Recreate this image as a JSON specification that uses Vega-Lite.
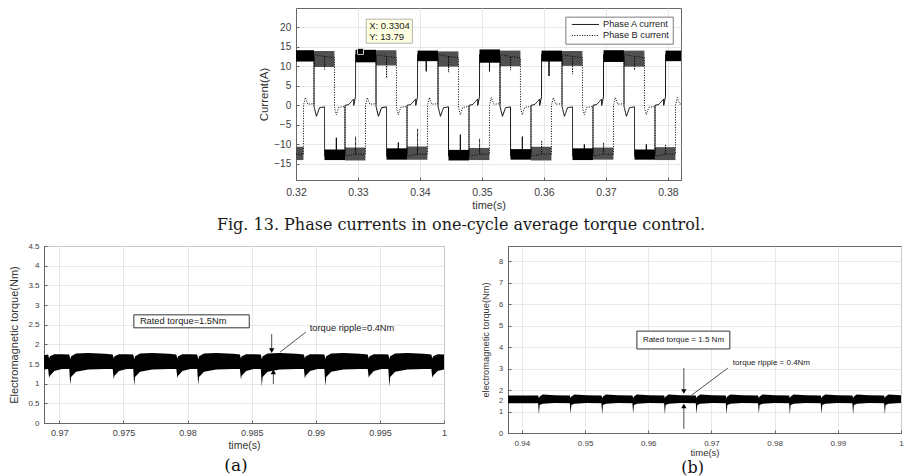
{
  "$schema": "https://vega.github.io/schema/vega-lite/v6.json",
  "background": "white",
  "padding": {"left": 8, "top": 7, "right": 0, "bottom": 0},
  "config": {
    "view": {"stroke": "#666666", "strokeWidth": 1},
    "axis": {"grid": true, "gridColor": "#e2e2e2", "gridWidth": 0.8, "domainColor": "#666666", "domainWidth": 1, "tickColor": "#666666", "tickSize": -3, "labelColor": "#404040", "titleColor": "#333333", "labelFont": "Liberation Sans", "titleFont": "Liberation Sans", "titleFontWeight": "normal", "labelFlush": false, "labelOverlap": false, "labelBound": false}
  },
  "spacing": 8,
  "resolve": {"scale": {"strokeDash": "independent", "fill": "independent", "shape": "independent"}},
  "vconcat": [
    {
      "spacing": 0,
      "resolve": {"scale": {"strokeDash": "independent", "fill": "independent"}},
      "hconcat": [
        {"width": 172, "height": 20, "data": {"values": [{"a": 1}]}, "mark": {"type": "point", "opacity": 0}, "view": {"stroke": null}},
        {
          "width": 385, "height": 172,
          "title": {"text": "Fig. 13. Phase currents in one-cycle average torque control.", "orient": "bottom", "anchor": "middle", "frame": "group", "font": "DejaVu Serif", "fontSize": 16, "fontWeight": "normal", "color": "#1a1a1a", "offset": 6, "dx": -27.5},
          "encoding": {
            "x": {"field": "t", "type": "quantitative", "scale": {"domain": [0.32, 0.3821], "nice": false, "zero": false}, "axis": {"title": "time(s)", "values": [0.32, 0.33, 0.34, 0.35, 0.36, 0.37, 0.38], "format": ".2f", "labelFontSize": 10.5, "titleFontSize": 11, "labelPadding": 10, "titlePadding": 2}},
            "y": {"field": "v", "type": "quantitative", "scale": {"domain": [-19.1, 24.9], "nice": false, "zero": false}, "axis": {"title": "Current(A)", "values": [-15, -10, -5, 0, 5, 10, 15, 20], "format": "d", "labelFontSize": 10, "titleFontSize": 11.5, "labelPadding": 8.3, "titlePadding": 4.4}}
          },
          "layer": [
            {
              "data": {"values": [
                {"ph": "A", "t": 0.32, "t2": 0.3229, "v": 11.2, "v2": 14.1},
                {"ph": "A", "t": 0.3296, "t2": 0.3329, "v": 11.0, "v2": 14.2},
                {"ph": "A", "t": 0.3396, "t2": 0.3429, "v": 11.3, "v2": 14.0},
                {"ph": "A", "t": 0.3496, "t2": 0.3529, "v": 10.9, "v2": 14.3},
                {"ph": "A", "t": 0.3596, "t2": 0.3629, "v": 11.2, "v2": 14.0},
                {"ph": "A", "t": 0.3696, "t2": 0.3729, "v": 11.1, "v2": 14.1},
                {"ph": "A", "t": 0.3796, "t2": 0.3821, "v": 11.3, "v2": 14.0},
                {"ph": "A", "t": 0.3246, "t2": 0.3279, "v": -14.0, "v2": -11.3},
                {"ph": "A", "t": 0.3346, "t2": 0.3379, "v": -13.9, "v2": -11.0},
                {"ph": "A", "t": 0.3446, "t2": 0.3479, "v": -14.1, "v2": -11.4},
                {"ph": "A", "t": 0.3546, "t2": 0.3579, "v": -13.9, "v2": -11.2},
                {"ph": "A", "t": 0.3646, "t2": 0.3679, "v": -14.0, "v2": -11.0},
                {"ph": "A", "t": 0.3746, "t2": 0.3779, "v": -13.9, "v2": -11.3},
                {"ph": "B", "t": 0.3229, "t2": 0.3262, "v": 9.8, "v2": 13.9},
                {"ph": "B", "t": 0.3329, "t2": 0.3362, "v": 10.2, "v2": 14.1},
                {"ph": "B", "t": 0.3429, "t2": 0.3462, "v": 9.9, "v2": 13.8},
                {"ph": "B", "t": 0.3529, "t2": 0.3562, "v": 10.0, "v2": 14.0},
                {"ph": "B", "t": 0.3629, "t2": 0.3662, "v": 10.1, "v2": 13.9},
                {"ph": "B", "t": 0.3729, "t2": 0.3762, "v": 9.9, "v2": 14.0},
                {"ph": "B", "t": 0.32, "t2": 0.3212, "v": -14.0, "v2": -10.6},
                {"ph": "B", "t": 0.3279, "t2": 0.3312, "v": -14.1, "v2": -10.8},
                {"ph": "B", "t": 0.3379, "t2": 0.3412, "v": -13.9, "v2": -10.5},
                {"ph": "B", "t": 0.3479, "t2": 0.3512, "v": -14.0, "v2": -10.9},
                {"ph": "B", "t": 0.3579, "t2": 0.3612, "v": -14.1, "v2": -10.6},
                {"ph": "B", "t": 0.3679, "t2": 0.3712, "v": -13.9, "v2": -10.8},
                {"ph": "B", "t": 0.3779, "t2": 0.3812, "v": -14.0, "v2": -10.7}
              ]},
              "mark": {"type": "rect", "clip": true},
              "encoding": {
                "x2": {"field": "t2"}, "y2": {"field": "v2"},
                "fill": {"field": "ph", "type": "nominal", "scale": {"domain": ["A", "B"], "range": ["#000000", "#505050"]}, "legend": null}
              }
            },
            {
              "data": {"values": [
                {"p":"A","t":0.32,"v":12.8},{"p":"A","t":0.3229,"v":12.5},{"p":"A","t":0.32291,"v":-0.3},{"p":"A","t":0.3233,"v":-2.8},{"p":"A","t":0.3238,"v":-0.6},{"p":"A","t":0.3246,"v":-0.4},{"p":"A","t":0.32461,"v":-13},{"p":"A","t":0.3265,"v":-12.6},{"p":"A","t":0.32651,"v":-8.3},{"p":"A","t":0.32652,"v":-12.6},{"p":"A","t":0.3279,"v":-12.5},{"p":"A","t":0.32791,"v":0},{"p":"A","t":0.3285,"v":0.2},{"p":"A","t":0.3293,"v":1.6},{"p":"A","t":0.32931,"v":0},
                {"p":"A","t":0.3296,"v":2.2},{"p":"A","t":0.32961,"v":13},{"p":"A","t":0.3329,"v":12.5},{"p":"A","t":0.33291,"v":-0.3},{"p":"A","t":0.3333,"v":-2.8},{"p":"A","t":0.3338,"v":-0.6},{"p":"A","t":0.3346,"v":-0.4},{"p":"A","t":0.33461,"v":-13},{"p":"A","t":0.3365,"v":-12.6},{"p":"A","t":0.33651,"v":-9.5},{"p":"A","t":0.33652,"v":-12.6},{"p":"A","t":0.3379,"v":-12.5},{"p":"A","t":0.33791,"v":0},{"p":"A","t":0.3385,"v":0.2},{"p":"A","t":0.3393,"v":1.6},{"p":"A","t":0.33931,"v":0},
                {"p":"A","t":0.3396,"v":2.2},{"p":"A","t":0.33961,"v":13},{"p":"A","t":0.341,"v":12.6},{"p":"A","t":0.34101,"v":8.7},{"p":"A","t":0.34102,"v":12.6},{"p":"A","t":0.3429,"v":12.5},{"p":"A","t":0.34291,"v":-0.3},{"p":"A","t":0.3433,"v":-2.8},{"p":"A","t":0.3438,"v":-0.6},{"p":"A","t":0.3446,"v":-0.4},{"p":"A","t":0.34461,"v":-13},{"p":"A","t":0.3465,"v":-12.6},{"p":"A","t":0.34651,"v":-7.5},{"p":"A","t":0.34652,"v":-12.6},{"p":"A","t":0.3479,"v":-12.5},{"p":"A","t":0.34791,"v":0},{"p":"A","t":0.3485,"v":0.2},{"p":"A","t":0.3493,"v":1.6},{"p":"A","t":0.34931,"v":0},
                {"p":"A","t":0.3496,"v":2.2},{"p":"A","t":0.34961,"v":13},{"p":"A","t":0.3512,"v":12.6},{"p":"A","t":0.35121,"v":8.7},{"p":"A","t":0.35122,"v":12.6},{"p":"A","t":0.3529,"v":12.5},{"p":"A","t":0.35291,"v":-0.3},{"p":"A","t":0.3533,"v":-2.8},{"p":"A","t":0.3538,"v":-0.6},{"p":"A","t":0.3546,"v":-0.4},{"p":"A","t":0.35461,"v":-13},{"p":"A","t":0.3565,"v":-12.6},{"p":"A","t":0.35651,"v":-8},{"p":"A","t":0.35652,"v":-12.6},{"p":"A","t":0.3579,"v":-12.5},{"p":"A","t":0.35791,"v":0},{"p":"A","t":0.3585,"v":0.2},{"p":"A","t":0.3593,"v":1.6},{"p":"A","t":0.35931,"v":0},
                {"p":"A","t":0.3596,"v":2.2},{"p":"A","t":0.35961,"v":13},{"p":"A","t":0.3608,"v":12.6},{"p":"A","t":0.36081,"v":7.5},{"p":"A","t":0.36082,"v":12.6},{"p":"A","t":0.3629,"v":12.5},{"p":"A","t":0.36291,"v":-0.3},{"p":"A","t":0.3633,"v":-2.8},{"p":"A","t":0.3638,"v":-0.6},{"p":"A","t":0.3646,"v":-0.4},{"p":"A","t":0.36461,"v":-13},{"p":"A","t":0.3665,"v":-12.6},{"p":"A","t":0.36651,"v":-10},{"p":"A","t":0.36652,"v":-12.6},{"p":"A","t":0.3679,"v":-12.5},{"p":"A","t":0.36791,"v":0},{"p":"A","t":0.3685,"v":0.2},{"p":"A","t":0.3693,"v":1.6},{"p":"A","t":0.36931,"v":0},
                {"p":"A","t":0.3696,"v":2.2},{"p":"A","t":0.36961,"v":13},{"p":"A","t":0.3729,"v":12.5},{"p":"A","t":0.37291,"v":-0.3},{"p":"A","t":0.3733,"v":-2.8},{"p":"A","t":0.3738,"v":-0.6},{"p":"A","t":0.3746,"v":-0.4},{"p":"A","t":0.37461,"v":-13},{"p":"A","t":0.3765,"v":-12.6},{"p":"A","t":0.37651,"v":-10},{"p":"A","t":0.37652,"v":-12.6},{"p":"A","t":0.3779,"v":-12.5},{"p":"A","t":0.37791,"v":0},{"p":"A","t":0.3785,"v":0.2},{"p":"A","t":0.3793,"v":1.6},{"p":"A","t":0.37931,"v":0},
                {"p":"A","t":0.3796,"v":2.2},{"p":"A","t":0.37961,"v":13},{"p":"A","t":0.3821,"v":12.8},
                {"p":"B","t":0.32,"v":-12.5},{"p":"B","t":0.3212,"v":-12.5},{"p":"B","t":0.32121,"v":0},{"p":"B","t":0.3215,"v":2},{"p":"B","t":0.3219,"v":0.3},
                {"p":"B","t":0.3229,"v":0.4},{"p":"B","t":0.32291,"v":13},{"p":"B","t":0.3246,"v":12.5},{"p":"B","t":0.32461,"v":9.2},{"p":"B","t":0.32462,"v":12.5},{"p":"B","t":0.3262,"v":12.2},{"p":"B","t":0.32621,"v":-0.5},{"p":"B","t":0.3265,"v":-2.4},{"p":"B","t":0.3269,"v":-0.5},{"p":"B","t":0.3279,"v":-0.3},{"p":"B","t":0.32791,"v":-13},{"p":"B","t":0.3296,"v":-12.5},{"p":"B","t":0.32961,"v":-8},{"p":"B","t":0.32962,"v":-12.5},{"p":"B","t":0.3312,"v":-12.5},{"p":"B","t":0.33121,"v":0},{"p":"B","t":0.3315,"v":2},{"p":"B","t":0.3319,"v":0.3},
                {"p":"B","t":0.3329,"v":0.4},{"p":"B","t":0.33291,"v":13},{"p":"B","t":0.3346,"v":12.5},{"p":"B","t":0.33461,"v":7},{"p":"B","t":0.33462,"v":12.5},{"p":"B","t":0.3362,"v":12.2},{"p":"B","t":0.33621,"v":-0.5},{"p":"B","t":0.3365,"v":-2.4},{"p":"B","t":0.3369,"v":-0.5},{"p":"B","t":0.3379,"v":-0.3},{"p":"B","t":0.33791,"v":-13},{"p":"B","t":0.3396,"v":-12.5},{"p":"B","t":0.33961,"v":-6},{"p":"B","t":0.33962,"v":-12.5},{"p":"B","t":0.3412,"v":-12.5},{"p":"B","t":0.34121,"v":0},{"p":"B","t":0.3415,"v":2},{"p":"B","t":0.3419,"v":0.3},
                {"p":"B","t":0.3429,"v":0.4},{"p":"B","t":0.34291,"v":13},{"p":"B","t":0.3446,"v":12.5},{"p":"B","t":0.34461,"v":8.5},{"p":"B","t":0.34462,"v":12.5},{"p":"B","t":0.3462,"v":12.2},{"p":"B","t":0.34621,"v":-0.5},{"p":"B","t":0.3465,"v":-2.4},{"p":"B","t":0.3469,"v":-0.5},{"p":"B","t":0.3479,"v":-0.3},{"p":"B","t":0.34791,"v":-13},{"p":"B","t":0.3496,"v":-12.5},{"p":"B","t":0.34961,"v":-8.5},{"p":"B","t":0.34962,"v":-12.5},{"p":"B","t":0.3512,"v":-12.5},{"p":"B","t":0.35121,"v":0},{"p":"B","t":0.3515,"v":2},{"p":"B","t":0.3519,"v":0.3},
                {"p":"B","t":0.3529,"v":0.4},{"p":"B","t":0.35291,"v":13},{"p":"B","t":0.3546,"v":12.5},{"p":"B","t":0.35461,"v":9},{"p":"B","t":0.35462,"v":12.5},{"p":"B","t":0.3562,"v":12.2},{"p":"B","t":0.35621,"v":-0.5},{"p":"B","t":0.3565,"v":-2.4},{"p":"B","t":0.3569,"v":-0.5},{"p":"B","t":0.3579,"v":-0.3},{"p":"B","t":0.35791,"v":-13},{"p":"B","t":0.3596,"v":-12.5},{"p":"B","t":0.35961,"v":-9},{"p":"B","t":0.35962,"v":-12.5},{"p":"B","t":0.3612,"v":-12.5},{"p":"B","t":0.36121,"v":0},{"p":"B","t":0.3615,"v":2},{"p":"B","t":0.3619,"v":0.3},
                {"p":"B","t":0.3629,"v":0.4},{"p":"B","t":0.36291,"v":13},{"p":"B","t":0.3646,"v":12.5},{"p":"B","t":0.36461,"v":8},{"p":"B","t":0.36462,"v":12.5},{"p":"B","t":0.3662,"v":12.2},{"p":"B","t":0.36621,"v":-0.5},{"p":"B","t":0.3665,"v":-2.4},{"p":"B","t":0.3669,"v":-0.5},{"p":"B","t":0.3679,"v":-0.3},{"p":"B","t":0.36791,"v":-13},{"p":"B","t":0.3696,"v":-12.5},{"p":"B","t":0.36961,"v":-9.5},{"p":"B","t":0.36962,"v":-12.5},{"p":"B","t":0.3712,"v":-12.5},{"p":"B","t":0.37121,"v":0},{"p":"B","t":0.3715,"v":2},{"p":"B","t":0.3719,"v":0.3},
                {"p":"B","t":0.3729,"v":0.4},{"p":"B","t":0.37291,"v":13},{"p":"B","t":0.3746,"v":12.5},{"p":"B","t":0.37461,"v":9},{"p":"B","t":0.37462,"v":12.5},{"p":"B","t":0.3762,"v":12.2},{"p":"B","t":0.37621,"v":-0.5},{"p":"B","t":0.3765,"v":-2.4},{"p":"B","t":0.3769,"v":-0.5},{"p":"B","t":0.3779,"v":-0.3},{"p":"B","t":0.37791,"v":-13},{"p":"B","t":0.3796,"v":-12.5},{"p":"B","t":0.37961,"v":-10},{"p":"B","t":0.37962,"v":-12.5},{"p":"B","t":0.3812,"v":-12.5},{"p":"B","t":0.38121,"v":0},{"p":"B","t":0.3815,"v":2},{"p":"B","t":0.3819,"v":0.3},
                {"p":"B","t":0.3821,"v":0.4}
              ]},
              "mark": {"type": "line", "color": "black", "strokeWidth": 1, "clip": true},
              "encoding": {
                "strokeDash": {"field": "p", "type": "nominal", "scale": {"domain": ["A", "B"], "range": [[1, 0], [1, 1.5]]}, "legend": null}
              }
            },
            {
              "data": {"values": [{"t": 0.36353, "t2": 0.38085, "v": 15.64, "v2": 22.56}]},
              "mark": {"type": "rect", "fill": "white", "stroke": "#5a5a5a", "strokeWidth": 0.8},
              "encoding": {"x2": {"field": "t2"}, "y2": {"field": "v2"}}
            },
            {
              "data": {"values": [{"p": "A", "t": 0.3645, "t2": 0.36887, "v": 20.69}, {"p": "B", "t": 0.3645, "t2": 0.36887, "v": 17.87}]},
              "mark": {"type": "rule", "color": "black", "strokeWidth": 1},
              "encoding": {"x2": {"field": "t2"}, "strokeDash": {"field": "p", "type": "nominal", "legend": null}}
            },
            {
              "data": {"values": [{"t": 0.36952, "v": 20.69, "label": "Phase A current"}, {"t": 0.36952, "v": 17.87, "label": "Phase B current"}]},
              "mark": {"type": "text", "align": "left", "baseline": "middle", "font": "Liberation Sans", "fontSize": 9.2, "color": "#222222"},
              "encoding": {"text": {"field": "label"}}
            },
            {
              "data": {"values": [{"t": 0.33133, "t2": 0.33877, "v": 15.9, "v2": 22.05}]},
              "mark": {"type": "rect", "fill": "#ffffe1", "stroke": "#a0a0a0", "strokeWidth": 0.8},
              "encoding": {"x2": {"field": "t2"}, "y2": {"field": "v2"}}
            },
            {
              "data": {"values": [{"t": 0.33181, "v": 20.4, "label": "X: 0.3304"}, {"t": 0.33181, "v": 17.4, "label": "Y: 13.79"}]},
              "mark": {"type": "text", "align": "left", "baseline": "middle", "font": "Liberation Sans", "fontSize": 9.5, "color": "#222222"},
              "encoding": {"text": {"field": "label"}}
            },
            {
              "data": {"values": [{"t": 0.3304, "v": 13.79}]},
              "mark": {"type": "point", "shape": "square", "filled": true, "fill": "black", "stroke": "white", "strokeWidth": 0.8, "size": 36, "opacity": 1}
            }
          ]
        }
      ]
    },
    {
      "spacing": 33,
      "resolve": {"scale": {"shape": "independent"}},
      "hconcat": [
        {
          "width": 400, "height": 177,
          "title": {"text": "(a)", "orient": "bottom", "anchor": "middle", "frame": "group", "font": "DejaVu Serif", "fontSize": 17, "fontWeight": "normal", "color": "#111111", "offset": 7, "dx": -8},
          "encoding": {
            "x": {"field": "t", "type": "quantitative", "scale": {"domain": [0.9688, 1], "nice": false, "zero": false}, "axis": {"title": "time(s)", "values": [0.97, 0.975, 0.98, 0.985, 0.99, 0.995, 1], "format": "~g", "labelFontSize": 9, "titleFontSize": 10.5, "labelPadding": 8, "titlePadding": 3}},
            "y": {"field": "v", "type": "quantitative", "scale": {"domain": [0, 4.5], "nice": false, "zero": false}, "axis": {"title": "Electromagnetic torque(Nm)", "values": [0, 0.5, 1, 1.5, 2, 2.5, 3, 3.5, 4, 4.5], "format": "~g", "labelFontSize": 8, "titleFontSize": 11, "labelPadding": 8, "titlePadding": 8}}
          },
          "layer": [
            {
              "data": {"values": [
                {"t":0.9688,"v":1.36,"v2":1.72},
                {"t":0.96912,"v":1.37,"v2":1.74},{"t":0.9692,"v":1.15,"v2":1.64},{"t":0.96926,"v":1.2,"v2":1.7},{"t":0.9696,"v":1.32,"v2":1.75},{"t":0.9702,"v":1.37,"v2":1.75},
                {"t":0.97077,"v":1.37,"v2":1.74},{"t":0.97085,"v":0.97,"v2":1.62},{"t":0.97091,"v":1.17,"v2":1.7},{"t":0.9713,"v":1.3,"v2":1.77},{"t":0.97225,"v":1.36,"v2":1.78},{"t":0.97355,"v":1.37,"v2":1.76},
                {"t":0.97416,"v":1.37,"v2":1.74},{"t":0.97424,"v":1.11,"v2":1.64},{"t":0.9743,"v":1.2,"v2":1.7},{"t":0.97464,"v":1.32,"v2":1.75},{"t":0.97524,"v":1.37,"v2":1.75},
                {"t":0.97576,"v":1.37,"v2":1.74},{"t":0.97584,"v":0.94,"v2":1.62},{"t":0.9759,"v":1.17,"v2":1.7},{"t":0.97629,"v":1.3,"v2":1.77},{"t":0.97724,"v":1.36,"v2":1.78},{"t":0.97854,"v":1.37,"v2":1.76},
                {"t":0.97912,"v":1.37,"v2":1.74},{"t":0.9792,"v":1.15,"v2":1.64},{"t":0.97926,"v":1.2,"v2":1.7},{"t":0.9796,"v":1.32,"v2":1.75},{"t":0.9802,"v":1.37,"v2":1.75},
                {"t":0.98075,"v":1.37,"v2":1.74},{"t":0.98083,"v":0.97,"v2":1.62},{"t":0.98089,"v":1.17,"v2":1.7},{"t":0.98128,"v":1.3,"v2":1.77},{"t":0.98223,"v":1.36,"v2":1.78},{"t":0.98353,"v":1.37,"v2":1.76},
                {"t":0.98408,"v":1.37,"v2":1.74},{"t":0.98416,"v":1.11,"v2":1.64},{"t":0.98422,"v":1.2,"v2":1.7},{"t":0.98456,"v":1.32,"v2":1.75},{"t":0.98516,"v":1.37,"v2":1.75},
                {"t":0.98571,"v":1.37,"v2":1.74},{"t":0.98579,"v":0.92,"v2":1.62},{"t":0.98585,"v":1.17,"v2":1.7},{"t":0.98624,"v":1.3,"v2":1.77},{"t":0.98719,"v":1.36,"v2":1.78},{"t":0.98849,"v":1.37,"v2":1.76},
                {"t":0.98907,"v":1.37,"v2":1.74},{"t":0.98915,"v":1.13,"v2":1.64},{"t":0.98921,"v":1.2,"v2":1.7},{"t":0.98955,"v":1.32,"v2":1.75},{"t":0.99015,"v":1.37,"v2":1.75},
                {"t":0.99067,"v":1.37,"v2":1.74},{"t":0.99075,"v":0.94,"v2":1.62},{"t":0.99081,"v":1.17,"v2":1.7},{"t":0.9912,"v":1.3,"v2":1.77},{"t":0.99215,"v":1.36,"v2":1.78},{"t":0.99345,"v":1.37,"v2":1.76},
                {"t":0.99405,"v":1.37,"v2":1.74},{"t":0.99413,"v":1.15,"v2":1.64},{"t":0.99419,"v":1.2,"v2":1.7},{"t":0.99453,"v":1.32,"v2":1.75},{"t":0.99513,"v":1.37,"v2":1.75},
                {"t":0.99566,"v":1.37,"v2":1.74},{"t":0.99574,"v":0.92,"v2":1.62},{"t":0.9958,"v":1.17,"v2":1.7},{"t":0.99619,"v":1.3,"v2":1.77},{"t":0.99714,"v":1.36,"v2":1.78},{"t":0.99844,"v":1.37,"v2":1.76},
                {"t":0.99901,"v":1.37,"v2":1.74},{"t":0.99909,"v":1.15,"v2":1.64},{"t":0.99915,"v":1.2,"v2":1.7},{"t":0.9995,"v":1.32,"v2":1.75},{"t":1.0,"v":1.36,"v2":1.74}
              ]},
              "mark": {"type": "area", "color": "black", "clip": true},
              "encoding": {"y2": {"field": "v2"}}
            },
            {
              "data": {"values": [{"t": 0.97581, "t2": 0.98481, "v": 2.42, "v2": 2.75}]},
              "mark": {"type": "rect", "fill": "white", "stroke": "#333333", "strokeWidth": 1},
              "encoding": {"x2": {"field": "t2"}, "y2": {"field": "v2"}}
            },
            {
              "data": {"values": [
                {"t": 0.98922, "t2": 0.98721, "v": 2.31, "v2": 1.8},
                {"t": 0.98656, "t2": 0.98656, "v": 2.26, "v2": 1.84},
                {"t": 0.98669, "t2": 0.98669, "v": 0.99, "v2": 1.3}
              ]},
              "mark": {"type": "rule", "color": "#222222", "strokeWidth": 0.8},
              "encoding": {"x2": {"field": "t2"}, "y2": {"field": "v2"}}
            },
            {
              "data": {"values": [{"t": 0.98656, "v": 1.84, "s": "down"}, {"t": 0.98669, "v": 1.3, "s": "up"}]},
              "mark": {"type": "point", "filled": true, "color": "black", "size": 28, "opacity": 1},
              "encoding": {"shape": {"field": "s", "type": "nominal", "scale": {"domain": ["down", "up"], "range": ["triangle-down", "triangle-up"]}, "legend": null}}
            },
            {
              "data": {"values": [{"t": 0.97628, "v": 2.585, "label": "Rated torque=1.5Nm"}, {"t": 0.98953, "v": 2.415, "label": "torque ripple=0.4Nm"}]},
              "mark": {"type": "text", "align": "left", "baseline": "middle", "font": "Liberation Sans", "fontSize": 9.3, "color": "#222222"},
              "encoding": {"text": {"field": "label"}}
            }
          ]
        },
        {
          "width": 393, "height": 187,
          "title": {"text": "(b)", "orient": "bottom", "anchor": "middle", "frame": "group", "font": "DejaVu Serif", "fontSize": 16, "fontWeight": "normal", "color": "#111111", "offset": 3, "dx": -12},
          "encoding": {
            "x": {"field": "t", "type": "quantitative", "scale": {"domain": [0.9378, 1], "nice": false, "zero": false}, "axis": {"title": "time(s)", "values": [0.94, 0.95, 0.96, 0.97, 0.98, 0.99, 1], "format": "~g", "labelFontSize": 8, "titleFontSize": 9.5, "labelPadding": 9, "titlePadding": 0}},
            "y": {"field": "v", "type": "quantitative", "scale": {"domain": [0, 8.7], "nice": false, "zero": false}, "axis": {"title": "electromagnetic torque(Nm)", "values": [0, 1, 1.5, 2, 3, 4, 5, 6, 7, 8], "format": "~g", "labelFontSize": 7.5, "titleFontSize": 9.3, "labelPadding": 8.3, "titlePadding": 8}}
          },
          "layer": [
            {
              "data": {"values": [
                {"t":0.9378,"v":1.38,"v2":1.74},
                {"t":0.94257,"v":1.38,"v2":1.75},{"t":0.94269,"v":0.86,"v2":1.62},{"t":0.94281,"v":1.3,"v2":1.7},{"t":0.94329,"v":1.36,"v2":1.79},{"t":0.94519,"v":1.39,"v2":1.76},
                {"t":0.94759,"v":1.38,"v2":1.75},{"t":0.94771,"v":0.88,"v2":1.62},{"t":0.94783,"v":1.3,"v2":1.7},{"t":0.94831,"v":1.36,"v2":1.79},{"t":0.95021,"v":1.39,"v2":1.76},
                {"t":0.95259,"v":1.38,"v2":1.75},{"t":0.95271,"v":0.86,"v2":1.62},{"t":0.95283,"v":1.3,"v2":1.7},{"t":0.95331,"v":1.36,"v2":1.79},{"t":0.95521,"v":1.39,"v2":1.76},
                {"t":0.95749,"v":1.38,"v2":1.75},{"t":0.95761,"v":0.9,"v2":1.62},{"t":0.95773,"v":1.3,"v2":1.7},{"t":0.95821,"v":1.36,"v2":1.79},{"t":0.96011,"v":1.39,"v2":1.76},
                {"t":0.96251,"v":1.38,"v2":1.75},{"t":0.96263,"v":0.86,"v2":1.62},{"t":0.96275,"v":1.3,"v2":1.7},{"t":0.96323,"v":1.36,"v2":1.79},{"t":0.96513,"v":1.39,"v2":1.76},
                {"t":0.96752,"v":1.38,"v2":1.75},{"t":0.96764,"v":0.88,"v2":1.62},{"t":0.96776,"v":1.3,"v2":1.7},{"t":0.96824,"v":1.36,"v2":1.79},{"t":0.97014,"v":1.39,"v2":1.76},
                {"t":0.97227,"v":1.38,"v2":1.75},{"t":0.97239,"v":0.86,"v2":1.62},{"t":0.97251,"v":1.3,"v2":1.7},{"t":0.97299,"v":1.36,"v2":1.79},{"t":0.97489,"v":1.39,"v2":1.76},
                {"t":0.97738,"v":1.38,"v2":1.75},{"t":0.9775,"v":0.9,"v2":1.62},{"t":0.97762,"v":1.3,"v2":1.7},{"t":0.9781,"v":1.36,"v2":1.79},{"t":0.98,"v":1.39,"v2":1.76},
                {"t":0.98229,"v":1.38,"v2":1.75},{"t":0.98241,"v":0.86,"v2":1.62},{"t":0.98253,"v":1.3,"v2":1.7},{"t":0.98301,"v":1.36,"v2":1.79},{"t":0.98491,"v":1.39,"v2":1.76},
                {"t":0.9873,"v":1.38,"v2":1.75},{"t":0.98742,"v":0.88,"v2":1.62},{"t":0.98754,"v":1.3,"v2":1.7},{"t":0.98802,"v":1.36,"v2":1.79},{"t":0.98992,"v":1.39,"v2":1.76},
                {"t":0.9923,"v":1.38,"v2":1.75},{"t":0.99242,"v":0.86,"v2":1.62},{"t":0.99254,"v":1.3,"v2":1.7},{"t":0.99302,"v":1.36,"v2":1.79},{"t":0.99492,"v":1.39,"v2":1.76},
                {"t":0.99732,"v":1.38,"v2":1.75},{"t":0.99744,"v":0.86,"v2":1.62},{"t":0.99756,"v":1.3,"v2":1.7},{"t":0.99804,"v":1.36,"v2":1.79},{"t":0.99994,"v":1.39,"v2":1.76},
                {"t":1.0,"v":1.38,"v2":1.76}
              ]},
              "mark": {"type": "area", "color": "black", "clip": true},
              "encoding": {"y2": {"field": "v2"}}
            },
            {
              "data": {"values": [{"t": 0.9582, "t2": 0.97291, "v": 3.91, "v2": 4.74}]},
              "mark": {"type": "rect", "fill": "white", "stroke": "#333333", "strokeWidth": 1},
              "encoding": {"x2": {"field": "t2"}, "y2": {"field": "v2"}}
            },
            {
              "data": {"values": [
                {"t": 0.97259, "t2": 0.9669, "v": 3.02, "v2": 1.77},
                {"t": 0.96563, "t2": 0.96563, "v": 3.02, "v2": 1.95},
                {"t": 0.96563, "t2": 0.96563, "v": 0.19, "v2": 1.25}
              ]},
              "mark": {"type": "rule", "color": "#222222", "strokeWidth": 0.8},
              "encoding": {"x2": {"field": "t2"}, "y2": {"field": "v2"}}
            },
            {
              "data": {"values": [{"t": 0.96563, "v": 1.93, "s": "down"}, {"t": 0.96563, "v": 1.26, "s": "up"}]},
              "mark": {"type": "point", "filled": true, "color": "black", "size": 28, "opacity": 1},
              "encoding": {"shape": {"field": "s", "type": "nominal", "scale": {"domain": ["down", "up"], "range": ["triangle-down", "triangle-up"]}, "legend": null}}
            },
            {
              "data": {"values": [{"t": 0.95915, "v": 4.33, "label": "Rated torque = 1.5 Nm"}, {"t": 0.97339, "v": 3.26, "label": "torque ripple = 0.4Nm"}]},
              "mark": {"type": "text", "align": "left", "baseline": "middle", "font": "Liberation Sans", "fontSize": 8, "color": "#222222"},
              "encoding": {"text": {"field": "label"}}
            }
          ]
        }
      ]
    }
  ]
}
